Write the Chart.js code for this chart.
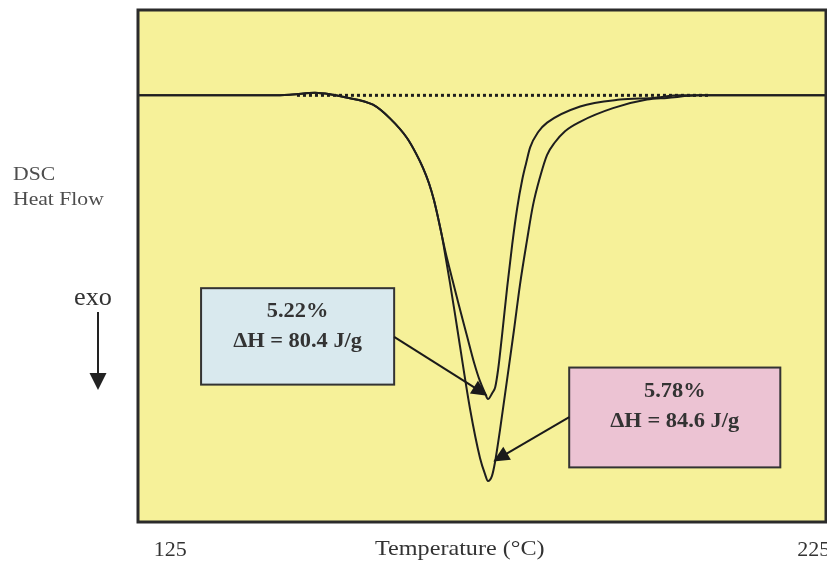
<!DOCTYPE html>
<html>
<head>
<meta charset="utf-8">
<script src="https://cdn.jsdelivr.net/npm/chart.js@4.4.0/dist/chart.umd.min.js"></script>
<style>
html,body{margin:0;padding:0;background:#fff}
#wrap{width:827px;height:571px;position:relative}
</style>
</head>
<body>
<div id="wrap"><canvas id="dsc"></canvas></div>
<script>
// 5.22% sample (shallower peak)
const tempA=[120,135,141,144,147.5,150,152,156.51,159.15,161.8,163.19,164.28,165.21,165.99,166.61,167.23,167.85,168.48,169.72,171.12,172.21,173.14,173.92,174.38,175.03,175.5,175.96,176.58,177.36,178.14,178.92,179.7,180.32,180.93,182.18,183.57,188.7,194.9,200,204.2,215,226.9];
const flowA=[0,0,0,0.01,0.03,0.01,-0.02,-0.11,-0.27,-0.5,-0.68,-0.85,-1.03,-1.23,-1.43,-1.65,-1.86,-2.05,-2.42,-2.82,-3.13,-3.35,-3.49,-3.56,-3.49,-3.42,-3.21,-2.8,-2.25,-1.75,-1.32,-0.99,-0.79,-0.61,-0.43,-0.32,-0.13,-0.05,-0.03,0,0,0];
// 5.78% sample (deeper peak)
const tempB=[120,135,141,144,147.5,150,152,156.51,159.15,161.8,163.19,164.28,165.21,165.99,166.61,167.23,167.85,168.48,169.25,170.03,171.58,173.14,173.92,174.38,175,175.47,176.25,177.33,178.42,179.35,180.44,181.37,182.46,183.55,184.79,186.35,188.68,193.8,199.09,202.19,207.3,215,226.9];
const flowB=[0,0,0,0.01,0.03,0.01,-0.02,-0.11,-0.27,-0.5,-0.68,-0.85,-1.03,-1.23,-1.43,-1.65,-1.92,-2.2,-2.56,-2.94,-3.67,-4.25,-4.44,-4.52,-4.46,-4.3,-3.92,-3.34,-2.75,-2.22,-1.7,-1.29,-0.96,-0.7,-0.55,-0.42,-0.31,-0.15,-0.05,-0.03,0,0,0];
// integration baseline (dotted)
const baseT=[144.7,208.9];
const baseF=[0,0];

const xTicks=[125,225];
const xTitle='Temperature (°C)';
const yTitle=['DSC','Heat Flow'];

const notes=[
  {lines:['5.22%','ΔH = 80.4 J/g'], box:[129.8,159.8,-2.26,-3.39], from:[159.8,-2.83], to:[174.3,-3.52], fill:'#d9e9ee'},
  {lines:['5.78%','ΔH = 84.6 J/g'], box:[187.0,219.8,-3.19,-4.36], from:[187.0,-3.77], to:[175.2,-4.29], fill:'#ecc3d3'}
];

const pts=(xs,ys)=>xs.map((x,i)=>({x,y:ys[i]}));

function arrow(ctx,x1,y1,x2,y2,len,half){
  const a=Math.atan2(y2-y1,x2-x1);
  ctx.beginPath();ctx.moveTo(x1,y1);ctx.lineTo(x2-Math.cos(a)*len*0.6,y2-Math.sin(a)*len*0.6);ctx.stroke();
  ctx.beginPath();
  ctx.moveTo(x2,y2);
  ctx.lineTo(x2-Math.cos(a)*len+Math.sin(a)*half,y2-Math.sin(a)*len-Math.cos(a)*half);
  ctx.lineTo(x2-Math.cos(a)*len-Math.sin(a)*half,y2-Math.sin(a)*len+Math.cos(a)*half);
  ctx.closePath();ctx.fill();
}
// the source lettering is a bit wide, so stretch it horizontally
function wideText(ctx,txt,x,y,sx){
  ctx.save();ctx.translate(x,y);ctx.scale(sx,1);ctx.fillText(txt,0,0);ctx.restore();
}

const decor={
  id:'decor',
  beforeDatasetsDraw(chart){
    const {ctx,chartArea:ca}=chart;
    ctx.save();
    ctx.fillStyle='#f6f199';
    ctx.fillRect(ca.left,ca.top,ca.right-ca.left,ca.bottom-ca.top);
    ctx.restore();
  },
  afterDatasetsDraw(chart){
    const {ctx,chartArea:ca,scales:{x,y}}=chart;
    ctx.save();
    ctx.strokeStyle='#2b2b2b';ctx.lineWidth=3;
    ctx.strokeRect(ca.left,ca.top,ca.right-ca.left,ca.bottom-ca.top);
    notes.forEach(n=>{
      const l=x.getPixelForValue(n.box[0]),r=x.getPixelForValue(n.box[1]);
      const t=y.getPixelForValue(n.box[2]),b=y.getPixelForValue(n.box[3]);
      ctx.fillStyle=n.fill;ctx.fillRect(l,t,r-l,b-t);
      ctx.strokeStyle='#333';ctx.lineWidth=2;ctx.strokeRect(l,t,r-l,b-t);
      ctx.fillStyle='#333';ctx.font='bold 20px "Liberation Serif"';
      ctx.textAlign='center';ctx.textBaseline='middle';
      wideText(ctx,n.lines[0],(l+r)/2,t+24,1.12);
      wideText(ctx,n.lines[1],(l+r)/2,t+54,1.12);
      ctx.strokeStyle='#1a1a1a';ctx.fillStyle='#1a1a1a';ctx.lineWidth=2;
      arrow(ctx,x.getPixelForValue(n.from[0]),y.getPixelForValue(n.from[1]),x.getPixelForValue(n.to[0]),y.getPixelForValue(n.to[1]),16,7.5);
    });
    ctx.fillStyle='#4d4d4d';ctx.font='19px "Liberation Serif"';
    ctx.textAlign='left';ctx.textBaseline='middle';
    wideText(ctx,yTitle[0],13,175,1.14);
    wideText(ctx,yTitle[1],13,200,1.14);
    ctx.fillStyle='#333';ctx.font='25px "Liberation Serif"';ctx.textAlign='center';
    wideText(ctx,'exo',93,298,1.05);
    ctx.strokeStyle='#222';ctx.fillStyle='#222';ctx.lineWidth=2;
    arrow(ctx,98,312,98,390,17,8.5);
    ctx.fillStyle='#333';ctx.font='21px "Liberation Serif"';
    wideText(ctx,xTitle,x.getPixelForValue(170),549,1.15);
    ctx.restore();
  }
};

const line={borderColor:'#1e1e1e',borderWidth:2,pointRadius:0,cubicInterpolationMode:'monotone',fill:false};

new Chart(document.getElementById('dsc'),{
  type:'line',
  data:{datasets:[
    {...line,label:'5.22%',data:pts(tempA,flowA)},
    {...line,label:'5.78%',data:pts(tempB,flowB)},
    {label:'baseline',data:pts(baseT,baseF),borderColor:'#1e1e1e',borderWidth:3,borderDash:[3,3],pointRadius:0,fill:false}
  ]},
  options:{
    responsive:true,maintainAspectRatio:false,animation:false,
    layout:{padding:{left:138,top:10,right:1,bottom:0}},
    plugins:{legend:{display:false},tooltip:{enabled:false}},
    scales:{
      x:{type:'linear',min:120,max:226.9,
        afterBuildTicks(s){s.ticks=xTicks.map(v=>({value:v}));},
        afterFit(s){s.height=49;s.paddingLeft=0;s.paddingRight=0;},
        grid:{display:false,drawTicks:false},border:{display:false},
        ticks:{padding:15,maxRotation:0,autoSkip:false,color:'#333',font:{family:'Liberation Serif',size:22}}},
      y:{type:'linear',min:-5,max:1,display:false}
    }
  },
  plugins:[decor]
});
</script>
</body>
</html>
